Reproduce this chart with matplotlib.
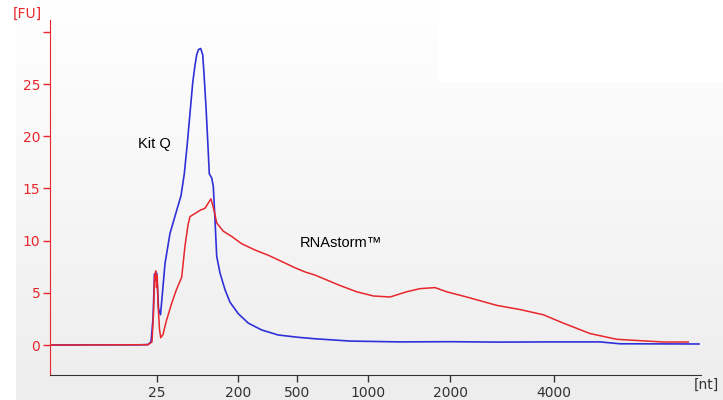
import numpy as np
import matplotlib
matplotlib.use("Agg")
import matplotlib.pyplot as plt
from matplotlib.patches import Rectangle

# Migration position (arbitrary axis units) and fluorescence [FU]
kitq_pos = [0, 50, 90, 98, 101, 103, 104.5, 105.5, 106.5, 107.5,
            108.5, 110.5, 112, 115, 120, 126.7, 131, 134.3, 137.3, 140,
            142.7, 145, 146.7, 148.5, 150.7, 152.7, 154, 156, 157.7, 159.3,
            161.7, 163.3, 165, 166.7, 170, 175, 180, 188.3, 198.3, 211.7,
            228.3, 248.3, 265, 300, 350, 400, 450, 500, 550, 570, 649]
kitq_fu = [0, 0.02, 0.02, 0.05, 0.3, 2.5, 6.8, 6.2, 6.9, 5.5,
           3.5, 2.9, 4.5, 7.8, 10.7, 12.9, 14.3, 16.4, 19.3, 22.2,
           25.1, 26.8, 27.8, 28.3, 28.4, 27.8, 26.0, 22.8, 19.6, 16.4,
           16.0, 15.2, 12.0, 8.5, 6.9, 5.3, 4.1, 3.0, 2.1, 1.44,
           0.96, 0.74, 0.6, 0.38, 0.3, 0.32, 0.28, 0.3, 0.3, 0.12, 0.1]

storm_pos = [0, 98, 102, 103.5, 104.5, 105.7, 106.5, 107.2, 108, 109.5,
             110.7, 113, 116, 121.7, 126, 131.7, 135, 138, 140, 145,
             150, 155, 158.3, 161, 164.3, 166.7, 173.3, 181.7, 191.7, 205,
             218.3, 231.7, 245, 255, 265, 290, 306.7, 323.3, 340, 356.7,
             370, 385, 396.7, 416.7, 446.7, 470, 493.3, 513.3, 540, 566.7,
             593.3, 613.3, 638.3]
storm_fu = [0, 0.03, 0.3, 3, 6.5, 7.1, 5.5, 6.7, 4, 1.5,
            0.7, 1.0, 2.2, 4.0, 5.2, 6.5, 9.5, 11.5, 12.3, 12.6,
            12.9, 13.1, 13.6, 14.0, 12.8, 11.7, 10.9, 10.4, 9.7, 9.1,
            8.6, 8.0, 7.4, 7.0, 6.7, 5.7, 5.1, 4.7, 4.6, 5.1,
            5.4, 5.5, 5.1, 4.6, 3.8, 3.4, 2.9, 2.1, 1.1, 0.55,
            0.4, 0.29, 0.29]

x_tick_pos = [106.7, 187.7, 246.7, 318.3, 400, 504.3]
x_tick_labels = ["25", "200", "500", "1000", "2000", "4000"]
y_ticks = [0, 5, 10, 15, 20, 25, 30]
y_tick_labels = ["0", "5", "10", "15", "20", "25", ""]

RED = "#e8262c"
BLUE = "#3030d8"
GRAY = "#333333"

fig = plt.figure(figsize=(7.23, 4.0), dpi=100)

# background gradient
bg = fig.add_axes([0, 0, 1, 1], zorder=-10)
grad = np.linspace(1.0, 0.93, 256).reshape(-1, 1)
bg.imshow(np.dstack([grad, grad, grad]), aspect="auto", extent=[0, 1, 0, 1])
bg.add_patch(Rectangle((0, 0), 16 / 723, 1, color="white", lw=0))
bg.add_patch(Rectangle((438 / 723, 1 - 83 / 400), 1, 83 / 400, color="white", lw=0))
bg.set_xlim(0, 1)
bg.set_ylim(0, 1)
bg.axis("off")

ax = fig.add_axes([50 / 723, 1 - 375 / 400, 651 / 723, 355 / 400])
ax.patch.set_alpha(0)

ax.plot(kitq_pos, kitq_fu, color=BLUE, lw=1.2)
ax.plot(storm_pos, storm_fu, color=RED, lw=1.1)

ax.set_xlim(0, 651)
ax.set_ylim(-2.87, 31.13)

for s in ["top", "right"]:
    ax.spines[s].set_visible(False)
ax.spines["left"].set_color(RED)
ax.spines["bottom"].set_color(GRAY)

ax.set_xticks(x_tick_pos)
ax.set_xticklabels(x_tick_labels)
ax.set_yticks(y_ticks)
ax.set_yticklabels(y_tick_labels)
ax.tick_params(axis="x", colors=GRAY, labelcolor=GRAY, length=5, width=1,
               labelsize=10, pad=3)
ax.tick_params(axis="y", colors=RED, labelcolor=RED, length=5, width=1,
               labelsize=10, pad=2)

fig.text(27 / 723, 1 - 14 / 400, "[FU]", color=RED, fontsize=10,
         ha="center", va="center")
fig.text(706 / 723, 1 - 385 / 400, "[nt]", color=GRAY, fontsize=10,
         ha="center", va="center")

ax.text(88, 19.3, "Kit Q", color="black", fontsize=10.5,
        family="Liberation Sans", ha="left", va="center")
ax.text(250, 9.8, "RNAstorm\u2122", color="black", fontsize=10.5,
        family="Liberation Sans", ha="left", va="center")

fig.savefig("out.png", dpi=100)
